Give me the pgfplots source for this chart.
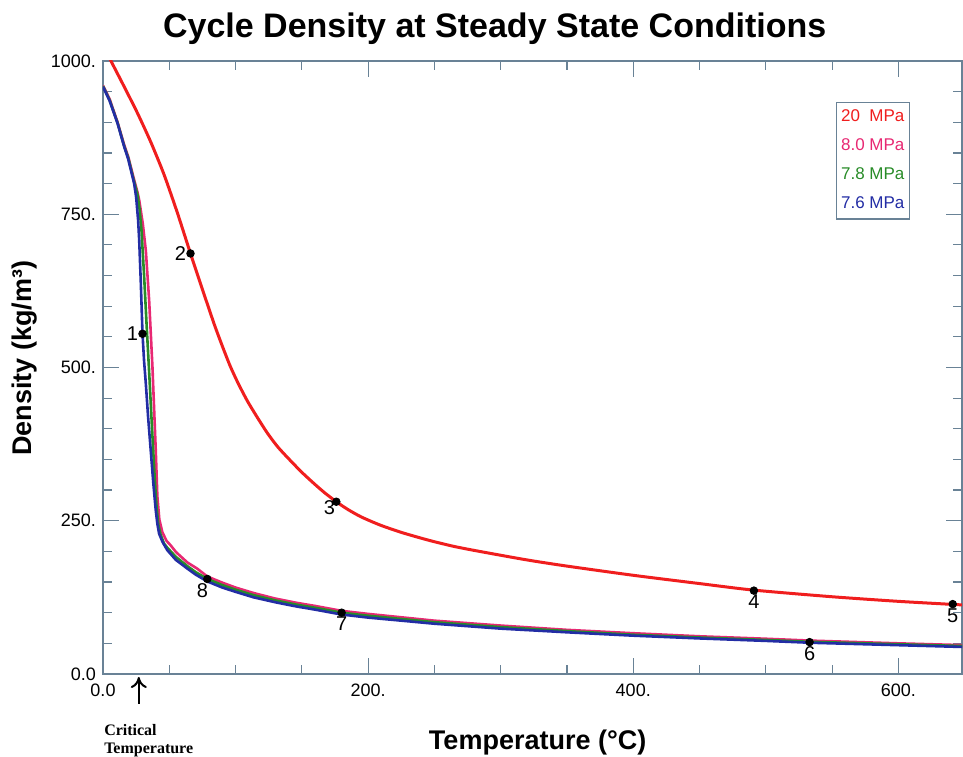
\documentclass[border=0pt]{standalone}
\usepackage{pgfplots}
\pgfplotsset{compat=1.18}
\usepackage{fontspec}
\setmainfont{Liberation Sans}
\newfontfamily\serifb{Liberation Serif}
\usetikzlibrary{arrows.meta}
\definecolor{axiscol}{RGB}{105,130,150}
\definecolor{c20}{RGB}{240,30,30}
\definecolor{c80}{RGB}{232,40,115}
\definecolor{c78}{RGB}{40,140,40}
\definecolor{c76}{RGB}{35,45,165}
\begin{document}
\begin{tikzpicture}
\begin{axis}[
  scale only axis, width=429.5pt, height=306.5pt,
  xmin=0, xmax=648, ymin=0, ymax=1000,
  clip mode=individual,
  xtick={0,200,400,600}, xticklabels={0.0,200.,400.,600.},
  minor x tick num=3,
  ytick={0,250,500,750,1000}, yticklabels={0.0,250.,500.,750.,1000.},
  minor y tick num=4,
  tick align=inside,
  major tick length=8pt, minor tick length=4.5pt,
  axis line style={draw=axiscol, line width=0.6pt},
  every tick/.style={draw=axiscol, line width=0.6pt},
  /pgf/number format/assume math mode=true,
  tick label style={font=\fontsize{9}{10}\selectfont},
  xticklabel style={yshift=-1.5pt},
  xlabel={\fontsize{13.5}{15}\selectfont\bfseries Temperature (°C)},
  xlabel style={at={(rel axis cs:0.506,-0.111)}, anchor=center},
  ylabel={\fontsize{13.5}{15}\selectfont\bfseries Density (kg/m³)},
  ylabel style={at={(rel axis cs:-0.0908,0.515)}, anchor=center},
  legend image code/.code={},
  legend style={at={(rel axis cs:0.853,0.933)}, anchor=north west, draw=axiscol,
    line width=0.6pt, font=\fontsize{8.5}{9}\selectfont, row sep=0pt,
    inner xsep=0pt, inner ysep=0pt,
    nodes={inner xsep=2.4pt, inner ysep=3.55pt}},
  legend cell align=left,
]
% 20 MPa
\addplot[c20, line width=1.5pt, smooth, tension=0.4] coordinates {
(0,1025) (6,1000) (16,958) (26,915) (36,868) (46,815) (56,753) (66,686)
(76,621) (84,570) (90,535) (96,502) (102,474) (109,445) (116,420) (124,393)
(132,370) (141,349) (150,329) (159,311) (167,296) (176,281) (185,268)
(195,256) (209,243) (225,231) (246,218) (265,208) (284,200) (320,186)
(350,176) (400,161) (450,147.5) (490,137) (550,126) (600,118.5) (641,113.5)
(650,112.5)
};
\addlegendentry{\textcolor{c20}{20\ \ MPa}}
% 8.0 MPa
\addplot[c80, line width=1.3pt] coordinates {
(0,960) (5,938) (11,900) (16,863) (19,844) (23.5,806) (26,786) (27.3,773)
(30,735) (32.3,691) (34.8,610) (37.3,501) (39.8,365) (41,290) (42.5,252)
(44.8,231) (48,217) (51,210) (55,199) (63.6,182) (71,172) (78.7,159)
(90,149) (100,141) (113.7,132) (130,123) (146.3,116) (160,111) (180,103)
(200,98) (250,87) (300,79) (350,72) (400,66.5) (450,61.5) (500,57.5)
(533,54.5) (600,50) (650,47)
};
\addlegendentry{\textcolor{c80}{8.0 MPa}}
% 7.8 MPa
\addplot[c78, line width=1.3pt] coordinates {
(0,959) (5,936) (11,899) (16,861) (19,842) (23.5,803) (26,782) (27.5,760)
(29,725) (31,650) (33,565) (35,485) (37,400) (39,320) (40.5,270) (41.8,243)
(43.5,227) (46,213) (48.5,206) (55,191) (63.6,176) (70,166) (78.7,155)
(90,145) (100,137.5) (113.7,128.5) (130,120) (146.3,113) (160,108) (180,100)
(200,95) (250,84.5) (300,76.5) (350,70) (400,64) (450,59.5) (500,55.5)
(533,52.5) (600,48.5) (650,45.5)
};
\addlegendentry{\textcolor{c78}{7.8 MPa}}
% 7.6 MPa
\addplot[c76, line width=1.3pt] coordinates {
(0,958) (5,935) (11,898) (16,860) (19,840) (23.5,800) (25,778) (26.5,740)
(27.3,708) (28.5,640) (29.8,555) (31,510) (32.3,474) (34,420) (36,365)
(38,310) (39.8,267) (41,245) (42.3,229) (45,215) (48.5,202) (55,186)
(63.6,172) (70,162) (78.7,151) (90,141) (100,134) (113.7,125) (130,117)
(146.3,110) (160,105) (180,97) (200,92) (250,82) (300,74) (350,68)
(400,62.5) (450,58) (500,54) (533,51) (600,47) (650,44)
};
\addlegendentry{\textcolor{c76}{7.6 MPa}}
% state points
\addplot[only marks, mark=*, mark size=1.9pt, black, forget plot,
  nodes near coords, point meta=explicit symbolic,
  every node near coord/.append style={anchor=east, font=\fontsize{10}{11}\selectfont, black, inner sep=1pt, xshift=-1pt}]
  table[meta=label] {
x y label
29.8 555 1
66 686 2
};
\addplot[only marks, mark=*, mark size=1.9pt, black, forget plot,
  nodes near coords, point meta=explicit symbolic,
  every node near coord/.append style={anchor=north east, font=\fontsize{10}{11}\selectfont, black, inner sep=1pt, xshift=0.5pt, yshift=2pt}]
  table[meta=label] {
x y label
176 281 3
};
\addplot[only marks, mark=*, mark size=1.9pt, black, forget plot,
  nodes near coords, point meta=explicit symbolic,
  every node near coord/.append style={anchor=north, font=\fontsize{10}{11}\selectfont, black, inner sep=1pt, yshift=-1pt}]
  table[meta=label] {
x y label
491 136 4
641 114 5
533 52 6
180 100 7
};
\addplot[only marks, mark=*, mark size=1.9pt, black, forget plot,
  nodes near coords, point meta=explicit symbolic,
  every node near coord/.append style={anchor=north, font=\fontsize{10}{11}\selectfont, black, inner sep=1pt, yshift=-1pt, xshift=-2.5pt}]
  table[meta=label] {
x y label
78.7 155 8
};
% title
\node[anchor=base, inner sep=0pt, font=\fontsize{17}{18}\selectfont\bfseries]
  at (rel axis cs:0.456,1.0387) {Cycle Density at Steady State Conditions};
% critical temperature annotation
\draw[black, line width=1pt, -{To[length=5.5pt,width=8pt]}] (axis cs:27,0) ++(0,-15pt) -- ([yshift=-1.5pt]axis cs:27,0);
\node[anchor=north west, inner sep=0pt, align=left, font=\serifb\bfseries\fontsize{8}{9}\selectfont]
  at (rel axis cs:0.001,-0.082) {Critical\\Temperature};
\coordinate (bl) at (rel axis cs:0,0);
\coordinate (tr) at (rel axis cs:1,1);
\end{axis}
\pgfresetboundingbox
\path[use as bounding box] ([shift={(-51.5pt,-41.5pt)}]bl) rectangle ([shift={(0.5pt,30.5pt)}]tr);
\end{tikzpicture}
\end{document}
